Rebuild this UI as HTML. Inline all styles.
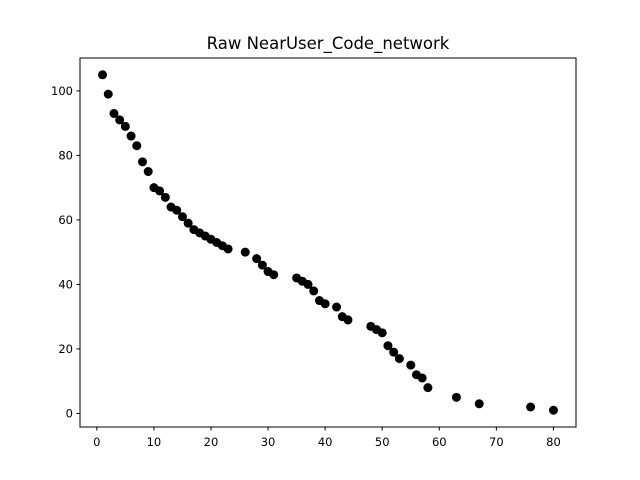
<!DOCTYPE html>
<html><head><meta charset="utf-8"><style>
body{margin:0;background:#fff;}
svg{display:block;font-family:"DejaVu Sans","Liberation Sans",sans-serif;}
</style></head><body>
<svg id="c" width="640" height="480">
<rect width="640" height="480" fill="#fff"/>
<text x="328" y="49" font-size="16.5" text-anchor="middle">Raw NearUser_Code_network</text>
<g id="ticks"></g>
<g id="pts"></g>
<rect x="80" y="58" width="496" height="369" fill="none" stroke="#000" stroke-width="1"/>
</svg>
<script>
const xs=[1,2,3,4,5,6,7,8,9,10,11,12,13,14,15,16,17,18,19,20,21,22,23,26,28,29,30,31,35,36,37,38,39,40,42,43,44,48,49,50,51,52,53,55,56,57,58,63,67,76,80];
const ys=[105,99,93,91,89,86,83,78,75,70,69,67,64,63,61,59,57,56,55,54,53,52,51,50,48,46,44,43,42,41,40,38,35,34,33,30,29,27,26,25,21,19,17,15,12,11,8,5,3,2,1];
const xTicks=[0,10,20,30,40,50,60,70,80];
const yTicks=[0,20,40,60,80,100];
const NS='http://www.w3.org/2000/svg';
const xmin=Math.min(...xs),xmax=Math.max(...xs),ymin=Math.min(...ys),ymax=Math.max(...ys);
const x0=xmin-(xmax-xmin)*0.05,x1=xmax+(xmax-xmin)*0.05;
const y0=ymin-(ymax-ymin)*0.05,y1=ymax+(ymax-ymin)*0.05;
const X=v=>80+(v-x0)/(x1-x0)*496;
const Y=v=>427-(v-y0)/(y1-y0)*369;
const tg=document.getElementById('ticks'),pg=document.getElementById('pts');
function mk(t,a,p){const e=document.createElementNS(NS,t);for(const k in a)e.setAttribute(k,a[k]);p.appendChild(e);return e;}
xTicks.forEach(v=>{
 const l=mk('line',{x1:X(v),x2:X(v),y1:427,y2:430.5,stroke:'#000'},tg);
 
 
 const t=mk('text',{x:X(v),y:446,'font-size':'11.5','text-anchor':'middle'},tg);t.textContent=v;
 
 
});
yTicks.forEach(v=>{
 const l=mk('line',{x1:76.5,x2:80,y1:Y(v),y2:Y(v),stroke:'#000'},tg);
 
 
 const t=mk('text',{x:73,y:Y(v)+4,'font-size':'11.5','text-anchor':'end'},tg);t.textContent=v;
 
 
});
xs.forEach((v,i)=>{
 const c=mk('circle',{cx:X(v),cy:Y(ys[i]),r:4.5,fill:'#000'},pg);
 
 
});
</script>
</body></html>
